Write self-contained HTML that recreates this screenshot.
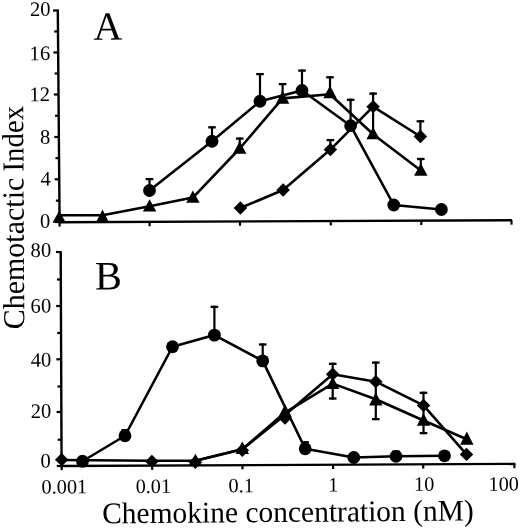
<!DOCTYPE html>
<html><head><meta charset="utf-8"><title>Chemotactic Index</title>
<style>
html,body{margin:0;padding:0;background:#fff;}
svg{display:block;will-change:transform;}
text{font-family:"Liberation Serif","DejaVu Serif",serif;fill:#000;}
</style></head>
<body>
<svg width="520" height="528" viewBox="0 0 520 528">
<rect width="520" height="528" fill="#fff"/>
<line x1="57.8" y1="9.5" x2="59.6" y2="223.3" stroke="#000" stroke-width="2.4" stroke-linecap="butt"/>
<line x1="58.9" y1="222.2" x2="512.0" y2="220.2" stroke="#000" stroke-width="2.4" stroke-linecap="butt"/>
<line x1="53.00982226379794" y1="10.5" x2="57.80982226379794" y2="10.5" stroke="#000" stroke-width="2.2" stroke-linecap="butt"/>
<line x1="53.4223573433115" y1="52.5" x2="58.2223573433115" y2="52.5" stroke="#000" stroke-width="2.2" stroke-linecap="butt"/>
<line x1="53.83489242282507" y1="94.5" x2="58.63489242282507" y2="94.5" stroke="#000" stroke-width="2.2" stroke-linecap="butt"/>
<line x1="54.2523386342376" y1="137" x2="59.0523386342376" y2="137" stroke="#000" stroke-width="2.2" stroke-linecap="butt"/>
<line x1="54.667820392890555" y1="179.3" x2="59.46782039289055" y2="179.3" stroke="#000" stroke-width="2.2" stroke-linecap="butt"/>
<line x1="55.087231057062674" y1="222" x2="59.88723105706267" y2="222" stroke="#000" stroke-width="2.2" stroke-linecap="butt"/>
<line x1="54.21608980355472" y1="31.5" x2="58.01608980355472" y2="31.5" stroke="#000" stroke-width="2.2" stroke-linecap="butt"/>
<line x1="54.62862488306829" y1="73.5" x2="58.42862488306829" y2="73.5" stroke="#000" stroke-width="2.2" stroke-linecap="butt"/>
<line x1="55.04361552853134" y1="115.75" x2="58.84361552853134" y2="115.75" stroke="#000" stroke-width="2.2" stroke-linecap="butt"/>
<line x1="55.46007951356408" y1="158.15" x2="59.26007951356408" y2="158.15" stroke="#000" stroke-width="2.2" stroke-linecap="butt"/>
<line x1="55.877525724976614" y1="200.65" x2="59.67752572497661" y2="200.65" stroke="#000" stroke-width="2.2" stroke-linecap="butt"/>
<line x1="59.6" y1="222.19691289966923" x2="59.6" y2="226.59691289966923" stroke="#000" stroke-width="2.2" stroke-linecap="butt"/>
<line x1="149.6" y1="221.79999999999998" x2="149.6" y2="226.2" stroke="#000" stroke-width="2.2" stroke-linecap="butt"/>
<line x1="240" y1="221.40132304299888" x2="240" y2="225.8013230429989" stroke="#000" stroke-width="2.2" stroke-linecap="butt"/>
<line x1="330.8" y1="221.00088202866593" x2="330.8" y2="225.40088202866593" stroke="#000" stroke-width="2.2" stroke-linecap="butt"/>
<line x1="421.3" y1="220.60176405733185" x2="421.3" y2="225.00176405733185" stroke="#000" stroke-width="2.2" stroke-linecap="butt"/>
<line x1="511.5" y1="220.20396912899668" x2="511.5" y2="224.60396912899668" stroke="#000" stroke-width="2.2" stroke-linecap="butt"/>
<line x1="60.7" y1="251" x2="61.6" y2="467.2" stroke="#000" stroke-width="2.4" stroke-linecap="butt"/>
<line x1="60.6" y1="466.0" x2="515.4" y2="463.9" stroke="#000" stroke-width="2.4" stroke-linecap="butt"/>
<line x1="55.90416281221092" y1="252" x2="60.70416281221092" y2="252" stroke="#000" stroke-width="2.2" stroke-linecap="butt"/>
<line x1="57.01864014801111" y1="279.5" x2="60.818640148011106" y2="279.5" stroke="#000" stroke-width="2.2" stroke-linecap="butt"/>
<line x1="56.128954671600376" y1="306" x2="60.92895467160037" y2="306" stroke="#000" stroke-width="2.2" stroke-linecap="butt"/>
<line x1="57.2413506012951" y1="333" x2="61.0413506012951" y2="333" stroke="#000" stroke-width="2.2" stroke-linecap="butt"/>
<line x1="56.350832562442186" y1="359.3" x2="61.15083256244218" y2="359.3" stroke="#000" stroke-width="2.2" stroke-linecap="butt"/>
<line x1="57.4640610545791" y1="386.5" x2="61.264061054579095" y2="386.5" stroke="#000" stroke-width="2.2" stroke-linecap="butt"/>
<line x1="56.57021276595745" y1="412" x2="61.37021276595745" y2="412" stroke="#000" stroke-width="2.2" stroke-linecap="butt"/>
<line x1="57.68552266419982" y1="439.7" x2="61.48552266419982" y2="439.7" stroke="#000" stroke-width="2.2" stroke-linecap="butt"/>
<line x1="56.795004625346905" y1="466" x2="61.5950046253469" y2="466" stroke="#000" stroke-width="2.2" stroke-linecap="butt"/>
<line x1="61.7" y1="465.9949230769231" x2="61.7" y2="470.1949230769231" stroke="#000" stroke-width="2.2" stroke-linecap="butt"/>
<line x1="152.2" y1="465.57723076923077" x2="152.2" y2="469.77723076923075" stroke="#000" stroke-width="2.2" stroke-linecap="butt"/>
<line x1="242.5" y1="465.16046153846156" x2="242.5" y2="469.36046153846155" stroke="#000" stroke-width="2.2" stroke-linecap="butt"/>
<line x1="333.1" y1="464.7423076923077" x2="333.1" y2="468.9423076923077" stroke="#000" stroke-width="2.2" stroke-linecap="butt"/>
<line x1="423.2" y1="464.32646153846156" x2="423.2" y2="468.52646153846155" stroke="#000" stroke-width="2.2" stroke-linecap="butt"/>
<line x1="514.4" y1="463.90553846153847" x2="514.4" y2="468.10553846153846" stroke="#000" stroke-width="2.2" stroke-linecap="butt"/>
<polyline points="149.5,190.5 212,141.25 260,101.25 302,90.5 350.6,125.7 393.75,205 441.4,209.5" fill="none" stroke="#000" stroke-width="2.6" stroke-linejoin="round"/>
<polyline points="59.2,215.3 102.5,215.2 149.6,206.318 192.9,197.576 239.7,148.508 282.6,98.34 330,94.3 373.1,134.17600000000002 420.8,170.45" fill="none" stroke="#000" stroke-width="2.6" stroke-linejoin="round"/>
<polyline points="240.4,208 283.1,190 330.4,149.6 373.1,106.7 420.4,136.5" fill="none" stroke="#000" stroke-width="2.6" stroke-linejoin="round"/>
<line x1="149.5" y1="178" x2="149.5" y2="190.5" stroke="#000" stroke-width="2.2" stroke-linecap="butt"/>
<line x1="145.7" y1="179.1" x2="153.3" y2="179.1" stroke="#000" stroke-width="2.3" stroke-linecap="butt"/>
<line x1="212" y1="126.25" x2="212" y2="141.25" stroke="#000" stroke-width="2.2" stroke-linecap="butt"/>
<line x1="208.2" y1="127.35" x2="215.8" y2="127.35" stroke="#000" stroke-width="2.3" stroke-linecap="butt"/>
<line x1="260" y1="73" x2="260" y2="101.25" stroke="#000" stroke-width="2.2" stroke-linecap="butt"/>
<line x1="256.2" y1="74.1" x2="263.8" y2="74.1" stroke="#000" stroke-width="2.3" stroke-linecap="butt"/>
<line x1="302" y1="69.5" x2="302" y2="90.5" stroke="#000" stroke-width="2.2" stroke-linecap="butt"/>
<line x1="298.2" y1="70.6" x2="305.8" y2="70.6" stroke="#000" stroke-width="2.3" stroke-linecap="butt"/>
<line x1="350.6" y1="98.7" x2="350.6" y2="125.7" stroke="#000" stroke-width="2.2" stroke-linecap="butt"/>
<line x1="346.8" y1="99.8" x2="354.40000000000003" y2="99.8" stroke="#000" stroke-width="2.3" stroke-linecap="butt"/>
<line x1="330.4" y1="139" x2="330.4" y2="149.6" stroke="#000" stroke-width="2.2" stroke-linecap="butt"/>
<line x1="326.59999999999997" y1="140.1" x2="334.2" y2="140.1" stroke="#000" stroke-width="2.3" stroke-linecap="butt"/>
<line x1="373.1" y1="92.5" x2="373.1" y2="106.7" stroke="#000" stroke-width="2.2" stroke-linecap="butt"/>
<line x1="369.3" y1="93.6" x2="376.90000000000003" y2="93.6" stroke="#000" stroke-width="2.3" stroke-linecap="butt"/>
<line x1="420.4" y1="120.2" x2="420.4" y2="136.5" stroke="#000" stroke-width="2.2" stroke-linecap="butt"/>
<line x1="416.59999999999997" y1="121.3" x2="424.2" y2="121.3" stroke="#000" stroke-width="2.3" stroke-linecap="butt"/>
<line x1="239.7" y1="137.5" x2="239.7" y2="144.2" stroke="#000" stroke-width="2.2" stroke-linecap="butt"/>
<line x1="235.89999999999998" y1="138.6" x2="243.5" y2="138.6" stroke="#000" stroke-width="2.3" stroke-linecap="butt"/>
<line x1="282.6" y1="83" x2="282.6" y2="93.8" stroke="#000" stroke-width="2.2" stroke-linecap="butt"/>
<line x1="278.8" y1="84.1" x2="286.40000000000003" y2="84.1" stroke="#000" stroke-width="2.3" stroke-linecap="butt"/>
<line x1="330" y1="76.2" x2="330" y2="88.4" stroke="#000" stroke-width="2.2" stroke-linecap="butt"/>
<line x1="326.2" y1="77.3" x2="333.8" y2="77.3" stroke="#000" stroke-width="2.3" stroke-linecap="butt"/>
<line x1="373.1" y1="106" x2="373.1" y2="130.1" stroke="#000" stroke-width="2.2" stroke-linecap="butt"/>
<line x1="369.3" y1="107.1" x2="376.90000000000003" y2="107.1" stroke="#000" stroke-width="2.3" stroke-linecap="butt"/>
<line x1="420.8" y1="157.9" x2="420.8" y2="166.2" stroke="#000" stroke-width="2.2" stroke-linecap="butt"/>
<line x1="417.0" y1="159.0" x2="424.6" y2="159.0" stroke="#000" stroke-width="2.3" stroke-linecap="butt"/>
<circle cx="149.5" cy="190.5" r="6.4" fill="#000"/>
<circle cx="212" cy="141.25" r="6.4" fill="#000"/>
<circle cx="260" cy="101.25" r="6.4" fill="#000"/>
<circle cx="302" cy="90.5" r="6.4" fill="#000"/>
<circle cx="350.6" cy="125.7" r="6.4" fill="#000"/>
<circle cx="393.75" cy="205" r="6.4" fill="#000"/>
<circle cx="441.4" cy="209.5" r="6.4" fill="#000"/>
<polygon points="59.2,210.6 65.9,222.8 52.5,222.8" fill="#000"/>
<polygon points="102.5,209.5 109.2,222.8 95.8,222.8" fill="#000"/>
<polygon points="149.6,199.3 156.29999999999998,211.4 142.9,211.4" fill="#000"/>
<polygon points="192.9,190.5 199.6,202.7 186.20000000000002,202.7" fill="#000"/>
<polygon points="239.7,141.2 246.39999999999998,153.8 233.0,153.8" fill="#000"/>
<polygon points="282.6,90.8 289.3,103.8 275.90000000000003,103.8" fill="#000"/>
<polygon points="330,85.4 336.7,98.2 323.3,98.2" fill="#000"/>
<polygon points="373.1,127.1 379.8,139.3 366.40000000000003,139.3" fill="#000"/>
<polygon points="420.8,163.2 427.5,175.7 414.1,175.7" fill="#000"/>
<polygon points="240.4,201.35 247.15,208 240.4,214.65 233.65,208" fill="#000"/>
<polygon points="283.1,183.35 289.85,190 283.1,196.65 276.35,190" fill="#000"/>
<polygon points="330.4,142.95 337.15,149.6 330.4,156.25 323.65,149.6" fill="#000"/>
<polygon points="373.1,100.05 379.85,106.7 373.1,113.35000000000001 366.35,106.7" fill="#000"/>
<polygon points="420.4,129.85 427.15,136.5 420.4,143.15 413.65,136.5" fill="#000"/>
<polyline points="82.5,461.25 125,435.75 172.5,346.75 214.4,335.1 262.7,360.9 305.2,448.8 353.8,457.5 396,456.3 444.5,455.8" fill="none" stroke="#000" stroke-width="2.6" stroke-linejoin="round"/>
<polyline points="195.4,460.7 242.3,449.2 285,412.6 332.7,383.6 375.8,399.2 423.5,420.45 466.8,439.25600000000003" fill="none" stroke="#000" stroke-width="2.6" stroke-linejoin="round"/>
<polyline points="61.7,460.0 151.9,460.8 195.4,460.7 242.3,449.2 285,415.0 332.7,374.2 375.8,381.7 423.5,405.4 466.5,454.4" fill="none" stroke="#000" stroke-width="2.6" stroke-linejoin="round"/>
<line x1="125" y1="429.2" x2="125" y2="435.75" stroke="#000" stroke-width="2.2" stroke-linecap="butt"/>
<line x1="121.2" y1="430.3" x2="128.8" y2="430.3" stroke="#000" stroke-width="2.3" stroke-linecap="butt"/>
<line x1="214.4" y1="305.75" x2="214.4" y2="335.1" stroke="#000" stroke-width="2.2" stroke-linecap="butt"/>
<line x1="210.6" y1="306.85" x2="218.20000000000002" y2="306.85" stroke="#000" stroke-width="2.3" stroke-linecap="butt"/>
<line x1="262.7" y1="343.4" x2="262.7" y2="360.9" stroke="#000" stroke-width="2.2" stroke-linecap="butt"/>
<line x1="258.9" y1="344.5" x2="266.5" y2="344.5" stroke="#000" stroke-width="2.3" stroke-linecap="butt"/>
<line x1="305.2" y1="441.2" x2="305.2" y2="448.8" stroke="#000" stroke-width="2.2" stroke-linecap="butt"/>
<line x1="301.4" y1="442.3" x2="309.0" y2="442.3" stroke="#000" stroke-width="2.3" stroke-linecap="butt"/>
<line x1="396" y1="450.5" x2="396" y2="456.3" stroke="#000" stroke-width="2.2" stroke-linecap="butt"/>
<line x1="392.2" y1="451.6" x2="399.8" y2="451.6" stroke="#000" stroke-width="2.3" stroke-linecap="butt"/>
<line x1="332.7" y1="362.7" x2="332.7" y2="399.6" stroke="#000" stroke-width="2.2" stroke-linecap="butt"/>
<line x1="328.9" y1="363.8" x2="336.5" y2="363.8" stroke="#000" stroke-width="2.3" stroke-linecap="butt"/>
<line x1="328.9" y1="398.5" x2="336.5" y2="398.5" stroke="#000" stroke-width="2.3" stroke-linecap="butt"/>
<line x1="375.8" y1="361.5" x2="375.8" y2="420.2" stroke="#000" stroke-width="2.2" stroke-linecap="butt"/>
<line x1="372.0" y1="362.6" x2="379.6" y2="362.6" stroke="#000" stroke-width="2.3" stroke-linecap="butt"/>
<line x1="372.0" y1="419.09999999999997" x2="379.6" y2="419.09999999999997" stroke="#000" stroke-width="2.3" stroke-linecap="butt"/>
<line x1="423.5" y1="391.7" x2="423.5" y2="434.2" stroke="#000" stroke-width="2.2" stroke-linecap="butt"/>
<line x1="419.7" y1="392.8" x2="427.3" y2="392.8" stroke="#000" stroke-width="2.3" stroke-linecap="butt"/>
<line x1="419.7" y1="433.09999999999997" x2="427.3" y2="433.09999999999997" stroke="#000" stroke-width="2.3" stroke-linecap="butt"/>
<circle cx="82.5" cy="461.25" r="6.4" fill="#000"/>
<circle cx="125" cy="435.75" r="6.4" fill="#000"/>
<circle cx="172.5" cy="346.75" r="6.4" fill="#000"/>
<circle cx="214.4" cy="335.1" r="6.4" fill="#000"/>
<circle cx="262.7" cy="360.9" r="6.4" fill="#000"/>
<circle cx="305.2" cy="448.8" r="6.4" fill="#000"/>
<circle cx="353.8" cy="457.5" r="6.4" fill="#000"/>
<circle cx="396" cy="456.3" r="6.4" fill="#000"/>
<circle cx="444.5" cy="455.8" r="6.4" fill="#000"/>
<polygon points="195.4,453.7 202.1,466.0 188.70000000000002,466.0" fill="#000"/>
<polygon points="242.3,441.4 249.0,453.9 235.60000000000002,453.9" fill="#000"/>
<polygon points="285,404.4 291.7,417.0 278.3,417.0" fill="#000"/>
<polygon points="332.7,376.8 339.4,389.0 326.0,389.0" fill="#000"/>
<polygon points="375.8,392.6 382.5,405.4 369.1,405.4" fill="#000"/>
<polygon points="423.5,413.2 430.2,425.7 416.8,425.7" fill="#000"/>
<polygon points="466.8,431.6 473.5,444.8 460.1,444.8" fill="#000"/>
<polygon points="61.7,453.05 68.45,459.7 61.7,466.34999999999997 54.95,459.7" fill="#000"/>
<polygon points="151.9,454.75 158.65,461.4 151.9,468.04999999999995 145.15,461.4" fill="#000"/>
<polygon points="195.4,455.65000000000003 202.15,462.3 195.4,468.95 188.65,462.3" fill="#000"/>
<polygon points="242.3,443.65000000000003 249.05,450.3 242.3,456.95 235.55,450.3" fill="#000"/>
<polygon points="285,411.35 291.75,418.0 285,424.65 278.25,418.0" fill="#000"/>
<polygon points="332.7,367.55 339.45,374.2 332.7,380.84999999999997 325.95,374.2" fill="#000"/>
<polygon points="375.8,375.05 382.55,381.7 375.8,388.34999999999997 369.05,381.7" fill="#000"/>
<polygon points="423.5,398.75 430.25,405.4 423.5,412.04999999999995 416.75,405.4" fill="#000"/>
<polygon points="466.5,447.75 473.25,454.4 466.5,461.04999999999995 459.75,454.4" fill="#000"/>
<text transform="translate(50.5,15.8) rotate(-0.35)" font-size="20.6" text-anchor="end" >20</text>
<text transform="translate(50.199999999999996,60.0) rotate(-0.35)" font-size="20.6" text-anchor="end" >16</text>
<text transform="translate(50.1,101.0) rotate(-0.35)" font-size="20.6" text-anchor="end" >12</text>
<text transform="translate(50.4,143.8) rotate(-0.35)" font-size="20.6" text-anchor="end" >8</text>
<text transform="translate(50.699999999999996,185.5) rotate(-0.35)" font-size="20.6" text-anchor="end" >4</text>
<text transform="translate(50.4,227.7) rotate(-0.35)" font-size="20.6" text-anchor="end" >0</text>
<text transform="translate(51.199999999999996,256.8) rotate(-0.35)" font-size="20.6" text-anchor="end" >80</text>
<text transform="translate(51.199999999999996,312.5) rotate(-0.35)" font-size="20.6" text-anchor="end" >60</text>
<text transform="translate(51.4,366.5) rotate(-0.35)" font-size="20.6" text-anchor="end" >40</text>
<text transform="translate(51.4,417.8) rotate(-0.35)" font-size="20.6" text-anchor="end" >20</text>
<text transform="translate(50.9,467.5) rotate(-0.35)" font-size="20.6" text-anchor="end" >0</text>
<text transform="translate(64.4,493.4) rotate(-0.35)" font-size="20.3" text-anchor="middle" >0.001</text>
<text transform="translate(153.4,492.9) rotate(-0.35)" font-size="20.3" text-anchor="middle" >0.01</text>
<text transform="translate(241.2,492.2) rotate(-0.35)" font-size="20.3" text-anchor="middle" >0.1</text>
<text transform="translate(333.3,491.4) rotate(-0.35)" font-size="20.3" text-anchor="middle" >1</text>
<text transform="translate(424.2,490.8) rotate(-0.35)" font-size="20.3" text-anchor="middle" >10</text>
<text transform="translate(503.7,490.6) rotate(-0.35)" font-size="20.3" text-anchor="middle" >100</text>
<text transform="translate(93.4,39.8) rotate(-0.35)" font-size="40" text-anchor="start" >A</text>
<text transform="translate(95.0,289.5) rotate(-0.35)" font-size="40.5" text-anchor="start" >B</text>
<text transform="translate(102.2,523.3) rotate(-0.45)" font-size="30" textLength="371.6" lengthAdjust="spacingAndGlyphs">Chemokine concentration (nM)</text>
<text transform="translate(24.3,329.3) rotate(-90.31)" font-size="30.5" textLength="151.6" lengthAdjust="spacingAndGlyphs">Chemotactic</text>
<text transform="translate(23.45,171.5) rotate(-90.31)" font-size="30.5" textLength="65.6" lengthAdjust="spacingAndGlyphs">Index</text>
</svg>
</body></html>
